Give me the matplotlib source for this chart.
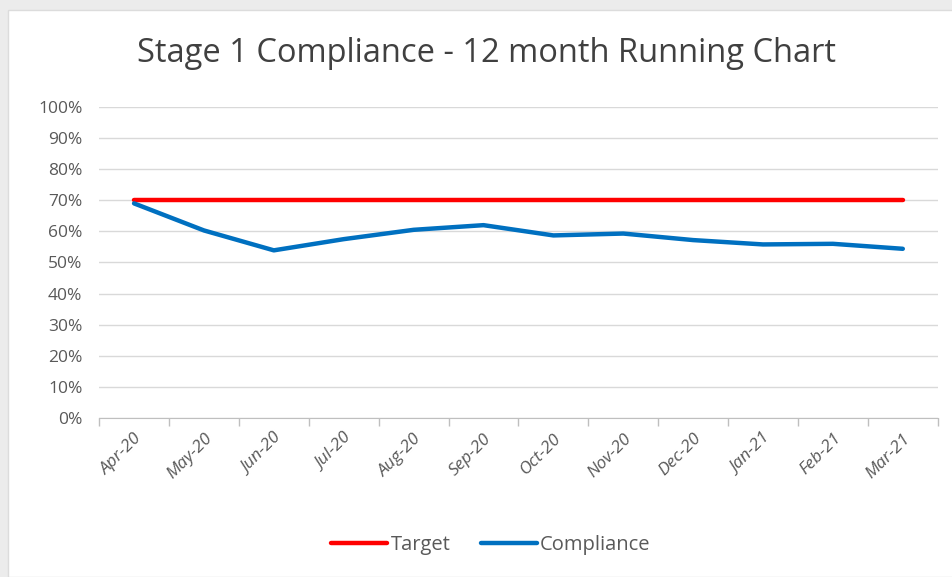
import numpy as np
import matplotlib.pyplot as plt
from matplotlib.patches import Rectangle
from matplotlib.ticker import PercentFormatter, FixedLocator

# chart data
months = ['Apr-20', 'May-20', 'Jun-20', 'Jul-20', 'Aug-20', 'Sep-20',
          'Oct-20', 'Nov-20', 'Dec-20', 'Jan-21', 'Feb-21', 'Mar-21']
target = [0.70] * 12
compliance = [0.69, 0.603, 0.539, 0.575, 0.605, 0.62,
              0.587, 0.593, 0.572, 0.558, 0.56, 0.544]

plt.rcParams['font.family'] = ['Open Sans', 'DejaVu Sans']

fig = plt.figure(figsize=(9.53, 5.77), dpi=100, facecolor='#ececec')
# white chart area inside the grey screenshot edge
fig.patches.append(Rectangle((8 / 953, 0), 1, 1 - 10 / 577, transform=fig.transFigure,
                             facecolor='white', edgecolor='#dcdcdc', lw=1, zorder=-5))

ax = fig.add_axes([0.104, 0.2756, 0.880, 0.539])
ax.set_zorder(2)
ax.patch.set_alpha(0)

x = np.arange(len(months))
ax.plot(x, target, color='#FF0000', lw=3.2, label='Target', solid_capstyle='round', zorder=3)
ax.plot(x, compliance, color='#0070C0', lw=3.2, label='Compliance', solid_capstyle='round', zorder=3)

ax.set_xlim(-0.5, len(months) - 0.5)
ax.set_ylim(0, 1)
ax.yaxis.set_major_locator(FixedLocator(np.linspace(0, 1, 11)))
ax.yaxis.set_major_formatter(PercentFormatter(1.0, decimals=0))
ax.grid(axis='y', color='#d9d9d9', lw=1)
ax.set_axisbelow(True)

ax.set_xticks(x)
ax.set_xticklabels(months, rotation=45, ha='right', rotation_mode='anchor',
                   style='italic', fontsize=12.5, color='#595959')
ax.set_xticks(np.arange(-0.5, len(months)), minor=True)
ax.tick_params(axis='x', which='major', length=0, pad=9)
ax.tick_params(axis='x', which='minor', length=6, color='#bfbfbf', width=1)
ax.tick_params(axis='y', length=0, labelsize=12.5, labelcolor='#595959', pad=12)

for s in ['top', 'right', 'left']:
    ax.spines[s].set_visible(False)
ax.spines['bottom'].set_color('#bfbfbf')

fig.text(0.51, 0.908, 'Stage 1 Compliance - 12 month Running Chart',
         ha='center', va='center', fontsize=23.5, color='#404040', zorder=3)

leg = fig.legend(loc='center', bbox_to_anchor=(0.515, 0.055), ncol=2, frameon=False,
                 fontsize=14.5, handlelength=2.8, handletextpad=0.15, columnspacing=1.5,
                 labelcolor='#595959')
leg.set_zorder(3)

fig.savefig('out.png', dpi=100, facecolor=fig.get_facecolor())
